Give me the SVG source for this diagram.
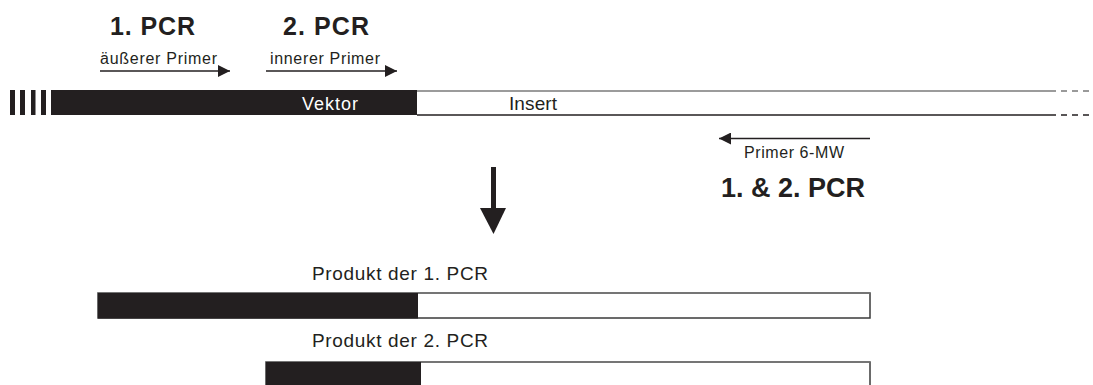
<svg xmlns="http://www.w3.org/2000/svg" width="1093" height="385" viewBox="0 0 1093 385">
<style>
  .t { font-family: "Liberation Sans", Arial, sans-serif; fill: #231f20; }
  .b { font-weight: bold; }
  .dark { fill: #231f20; }
  .ln { stroke: #231f20; stroke-width: 1.5; fill: none; }
  .top { stroke: #7a7a7a; stroke-width: 1.5; fill: none; }
</style>
<defs>
  <marker id="ah" viewBox="0 0 12 12" refX="12" refY="6" markerWidth="12" markerHeight="12" markerUnits="userSpaceOnUse" orient="auto">
    <path d="M0,0 L12,6 L0,12 Z" fill="#231f20"/>
  </marker>
</defs>
<rect width="1093" height="385" fill="#ffffff"/>

<g id="labels-top">
  <text class="t b" x="110" y="35" font-size="25" textLength="85" lengthAdjust="spacing">1. PCR</text>
  <text class="t b" x="283" y="35" font-size="25" textLength="86" lengthAdjust="spacing">2. PCR</text>
</g>

<g id="template">
  <rect class="dark" x="10" y="90" width="5" height="25"/>
  <rect class="dark" x="20" y="90" width="5" height="25"/>
  <rect class="dark" x="31" y="90" width="4.5" height="25"/>
  <rect class="dark" x="41" y="90" width="5" height="25"/>
  <rect class="dark" x="51" y="90" width="366" height="25"/>
  <line class="top" x1="417" y1="91" x2="1056" y2="91"/>
  <line class="ln" x1="417" y1="115" x2="1056" y2="115"/>
  <line class="top" x1="1061" y1="91" x2="1093" y2="91" stroke-dasharray="6 5"/>
  <line class="ln" x1="1061" y1="115" x2="1093" y2="115" stroke-dasharray="6 5"/>
  <text class="t" x="302" y="110" font-size="18" fill="#ffffff" style="fill:#ffffff" textLength="56" lengthAdjust="spacing">Vektor</text>
  <text class="t" x="509" y="110" font-size="19" textLength="48" lengthAdjust="spacing">Insert</text>
</g>

<g id="primer-outer">
  <text class="t" x="100" y="64" font-size="16" textLength="117" lengthAdjust="spacing">äußerer Primer</text>
</g>
<g id="primer-inner">
  <text class="t" x="270" y="64" font-size="16" textLength="110" lengthAdjust="spacing">innerer Primer</text>
</g>
<g id="primer-reverse">
  <text class="t" x="744" y="158" font-size="16" textLength="100" lengthAdjust="spacing">Primer 6-MW</text>
  <text class="t b" x="721" y="197" font-size="27" textLength="144" lengthAdjust="spacing">1. &amp; 2. PCR</text>
</g>

<g id="connectors">
  <line class="ln" x1="100" y1="71" x2="230" y2="71" marker-end="url(#ah)"/>
  <line class="ln" x1="266" y1="71" x2="397" y2="71" marker-end="url(#ah)"/>
  <line class="ln" x1="870" y1="138.5" x2="719" y2="138.5" marker-end="url(#ah)"/>
  <rect class="dark" x="491" y="167" width="5" height="42"/>
  <path class="dark" d="M480,208 L506,208 L493.5,234 Z"/>
</g>

<g id="product1">
  <text class="t" x="312" y="280" font-size="19" textLength="176" lengthAdjust="spacing">Produkt der 1. PCR</text>
  <rect x="98" y="293" width="772" height="25" fill="#ffffff" stroke="#3a3a3a" stroke-width="1.5"/>
  <line class="top" x1="98" y1="293" x2="870" y2="293"/>
  <rect class="dark" x="98" y="293" width="320" height="25.5"/>
</g>

<g id="product2">
  <text class="t" x="312" y="347" font-size="19" textLength="176" lengthAdjust="spacing">Produkt der 2. PCR</text>
  <rect x="266" y="362" width="604" height="30" fill="#ffffff" stroke="#3a3a3a" stroke-width="1.5"/>
  <line class="top" x1="266" y1="362" x2="870" y2="362"/>
  <rect class="dark" x="266" y="362" width="155" height="30"/>
</g>
</svg>
